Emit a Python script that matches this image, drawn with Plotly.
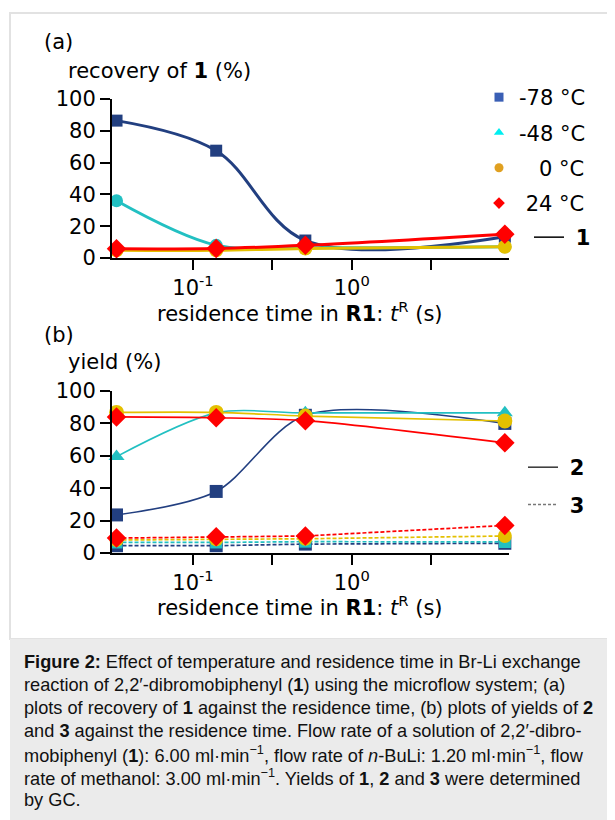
import plotly.graph_objects as go

# ---------------- data ----------------
t_res = [0.033, 0.14, 0.51, 9.2]          # residence time (s)

temps = ["-78 °C", "-48 °C", "0 °C", "24 °C"]

rec1_m78 = [86.4, 67.5, 11.0, 13.4]
rec1_m48 = [36.0, 8.0, 6.5, 7.0]
rec1_0 = [4.8, 4.8, 6.0, 7.1]
rec1_24 = [5.8, 6.0, 8.0, 15.0]

y2_m78 = [23.5, 38.0, 85.0, 80.0]
y2_m48 = [59.5, 86.5, 86.5, 86.5]
y2_0 = [86.8, 86.8, 84.5, 81.5]
y2_24 = [84.0, 83.5, 81.7, 68.0]

y3_m78 = [4.5, 4.5, 5.5, 6.0]
y3_m48 = [6.5, 6.5, 7.0, 6.8]
y3_0 = [8.0, 8.5, 8.8, 10.5]
y3_24 = [9.2, 10.0, 10.5, 17.0]

x_tickvals = [0.1, 0.3162, 1, 3.162]
x_ticktext = ["10<sup>-1</sup>", "", "10<sup>0</sup>", ""]
y_tickvals = [0, 20, 40, 60, 80, 100]

# ---------------- styles ----------------
W, H = 615, 820
OX, OY = 8, 8          # page body margin offset of the plot div
FONT = "DejaVu Sans"
FS = 21
col_blue = "#223f80"
col_cyan = "#22c0c2"
col_yel = "#e4c000"
col_red = "#ff0000"
leg_cols = ["#3a5fb5", "#00eef0", "#e0a020", "#ff0000"]
leg_syms = ["square", "triangle-up", "circle", "diamond"]


def px_x(p):
    return (p - OX) / W


def px_y(p):
    return 1 - (p - OY) / H


fig = go.Figure()

# ---------------- panel (a) ----------------
top_series = [
    (rec1_m78, col_blue, "square", 12),
    (rec1_m48, col_cyan, "circle", 13),
    (rec1_0, col_yel, "circle", 14),
    (rec1_24, col_red, "diamond", 15),
]
for vals, c, sym, sz in top_series:
    fig.add_trace(go.Scatter(
        x=t_res, y=vals, mode="lines+markers", xaxis="x", yaxis="y",
        line=dict(color=c, width=3, shape="spline", smoothing=1.0),
        marker=dict(symbol=sym, size=sz, color=c),
        cliponaxis=False, showlegend=False))

# ---------------- panel (b) ----------------
bot2 = [
    (y2_m78, col_blue, "square", 13),
    (y2_m48, col_cyan, "triangle-up", 14),
    (y2_0, col_yel, "circle", 15),
    (y2_24, col_red, "diamond", 15),
]
bot3 = [
    (y3_m78, col_blue, "square", 13),
    (y3_m48, col_cyan, "square", 12),
    (y3_0, col_yel, "circle", 14),
    (y3_24, col_red, "diamond", 15),
]
for vals, c, sym, sz in bot3:
    fig.add_trace(go.Scatter(
        x=t_res, y=vals, mode="lines+markers", xaxis="x2", yaxis="y2",
        line=dict(color=c, width=1.7, dash="4px,2px"),
        marker=dict(symbol=sym, size=sz, color=c),
        cliponaxis=False, showlegend=False))
for vals, c, sym, sz in bot2:
    fig.add_trace(go.Scatter(
        x=t_res, y=vals, mode="lines+markers", xaxis="x2", yaxis="y2",
        line=dict(color=c, width=1.6, shape="spline", smoothing=0.85),
        marker=dict(symbol=sym, size=sz, color=c),
        cliponaxis=False, showlegend=False))

# ---------------- legends ----------------
leg_names = ["-78 °C", "-48 °C", "\u00a0\u00a0\u00a00 °C", "\u00a024 °C"]
for i, (nm, c, s) in enumerate(zip(leg_names, leg_cols, leg_syms)):
    fig.add_trace(go.Scatter(
        x=[None], y=[None], mode="markers", name=nm, xaxis="x", yaxis="y",
        marker=dict(symbol=s, size=9, color=c), legend="legend",
        legendgroup="g%d" % i, showlegend=True))
fig.add_trace(go.Scatter(
    x=[None], y=[None], mode="lines", name="\u00a0<b>1</b>", xaxis="x", yaxis="y",
    line=dict(color="black", width=1.5), legend="legend2", showlegend=True))
fig.add_trace(go.Scatter(
    x=[None], y=[None], mode="lines", name="\u00a0<b>2</b>", xaxis="x2", yaxis="y2",
    line=dict(color="black", width=1.2), legend="legend3",
    legendgroup="h2", showlegend=True))
fig.add_trace(go.Scatter(
    x=[None], y=[None], mode="lines", name="\u00a0<b>3</b>", xaxis="x2", yaxis="y2",
    line=dict(color="#777777", width=1.4, dash="3px,2px"), legend="legend3",
    legendgroup="h3", showlegend=True))

xdom = [px_x(112), px_x(509)]
common_x = dict(type="log", range=[-1.51, 0.99], tickvals=x_tickvals,
                ticktext=x_ticktext, ticks="outside", ticklen=10, tickwidth=2,
                tickcolor="black", showline=True, linewidth=2, linecolor="black",
                showgrid=False, zeroline=False, automargin=False,
                tickfont=dict(family=FONT, size=FS, color="black"))
common_y = dict(range=[0, 100], tickvals=y_tickvals, ticks="outside", ticklen=10,
                tickwidth=2, tickcolor="black", showline=True, linewidth=2,
                linecolor="black", showgrid=False, zeroline=False,
                automargin=False,
                tickfont=dict(family=FONT, size=FS, color="black"))

xtitle = "residence time in <b>R1</b>: <i>t</i><sup>R</sup> (s)"

fig.update_layout(
    width=W, height=H, autosize=False,
    margin=dict(l=0, r=0, t=0, b=0, pad=0, autoexpand=False),
    paper_bgcolor="white", plot_bgcolor="white",
    font=dict(family=FONT, size=FS, color="black"),
    xaxis=dict(domain=xdom, anchor="y", **common_x),
    yaxis=dict(domain=[px_y(258), px_y(99)], anchor="x", **common_y),
    xaxis2=dict(domain=xdom, anchor="y2", **common_x),
    yaxis2=dict(domain=[px_y(553), px_y(391)], anchor="x2", **common_y),
    legend=dict(x=px_x(479), y=px_y(77), xanchor="left", yanchor="top",
                traceorder="grouped", tracegroupgap=5, bgcolor="rgba(0,0,0,0)",
                font=dict(family=FONT, size=FS, color="black"), itemwidth=30),
    legend2=dict(x=px_x(529), y=px_y(217), xanchor="left", yanchor="top",
                 bgcolor="rgba(0,0,0,0)",
                 font=dict(family=FONT, size=FS, color="black"), itemwidth=30),
    legend3=dict(x=px_x(523), y=px_y(447), xanchor="left", yanchor="top",
                 traceorder="grouped", tracegroupgap=7, bgcolor="rgba(0,0,0,0)",
                 font=dict(family=FONT, size=FS, color="black"), itemwidth=30),
)

# ---------------- panel labels and axis titles ----------------
ann = [
    ("(a)", 42, 42, "left"),
    ("recovery of <b>1</b> (%)", 66, 71, "left"),
    ("(b)", 42, 335, "left"),
    ("yield (%)", 66, 362, "left"),
    (xtitle, 300, 312, "center"),
    (xtitle, 300, 606, "center"),
]
for txt, x0, y0, xa in ann:
    fig.add_annotation(text=txt, x=px_x(x0), y=px_y(y0), xref="paper",
                       yref="paper", xanchor=xa, yanchor="middle",
                       showarrow=False, font=dict(family=FONT, size=FS))

# ---------------- frame and caption ----------------
fig.add_shape(type="rect", xref="paper", yref="paper",
              x0=px_x(10), x1=px_x(625), y0=px_y(639), y1=px_y(13),
              line=dict(color="#e2e2e2", width=2), fillcolor="rgba(0,0,0,0)",
              layer="below")
fig.add_shape(type="rect", xref="paper", yref="paper",
              x0=px_x(10), x1=px_x(625), y0=px_y(830), y1=px_y(639),
              line=dict(width=0), fillcolor="#ebebeb", layer="below")

caption = [
    "<b>Figure 2:</b> Effect of temperature and residence time in Br-Li exchange",
    "reaction of 2,2′-dibromobiphenyl (<b>1</b>) using the microflow system; (a)",
    "plots of recovery of <b>1</b> against the residence time, (b) plots of yields of <b>2</b>",
    "and <b>3</b> against the residence time. Flow rate of a solution of 2,2′-dibro-",
    "mobiphenyl (<b>1</b>): 6.00 ml·min<sup>−1</sup>, flow rate of <i>n</i>-BuLi: 1.20 ml·min<sup>−1</sup>, flow",
    "rate of methanol: 3.00 ml·min<sup>−1</sup>. Yields of <b>1</b>, <b>2</b> and <b>3</b> were determined",
    "by GC.",
]
cap_y = [662, 685, 708, 731, 754, 777, 800]
for line, yy in zip(caption, cap_y):
    fig.add_annotation(text=line, x=px_x(22), y=px_y(yy), xref="paper",
                       yref="paper", xanchor="left", yanchor="middle",
                       showarrow=False,
                       font=dict(family="Liberation Sans", size=18.2, color="#111111"))

fig.write_html("out.html")
